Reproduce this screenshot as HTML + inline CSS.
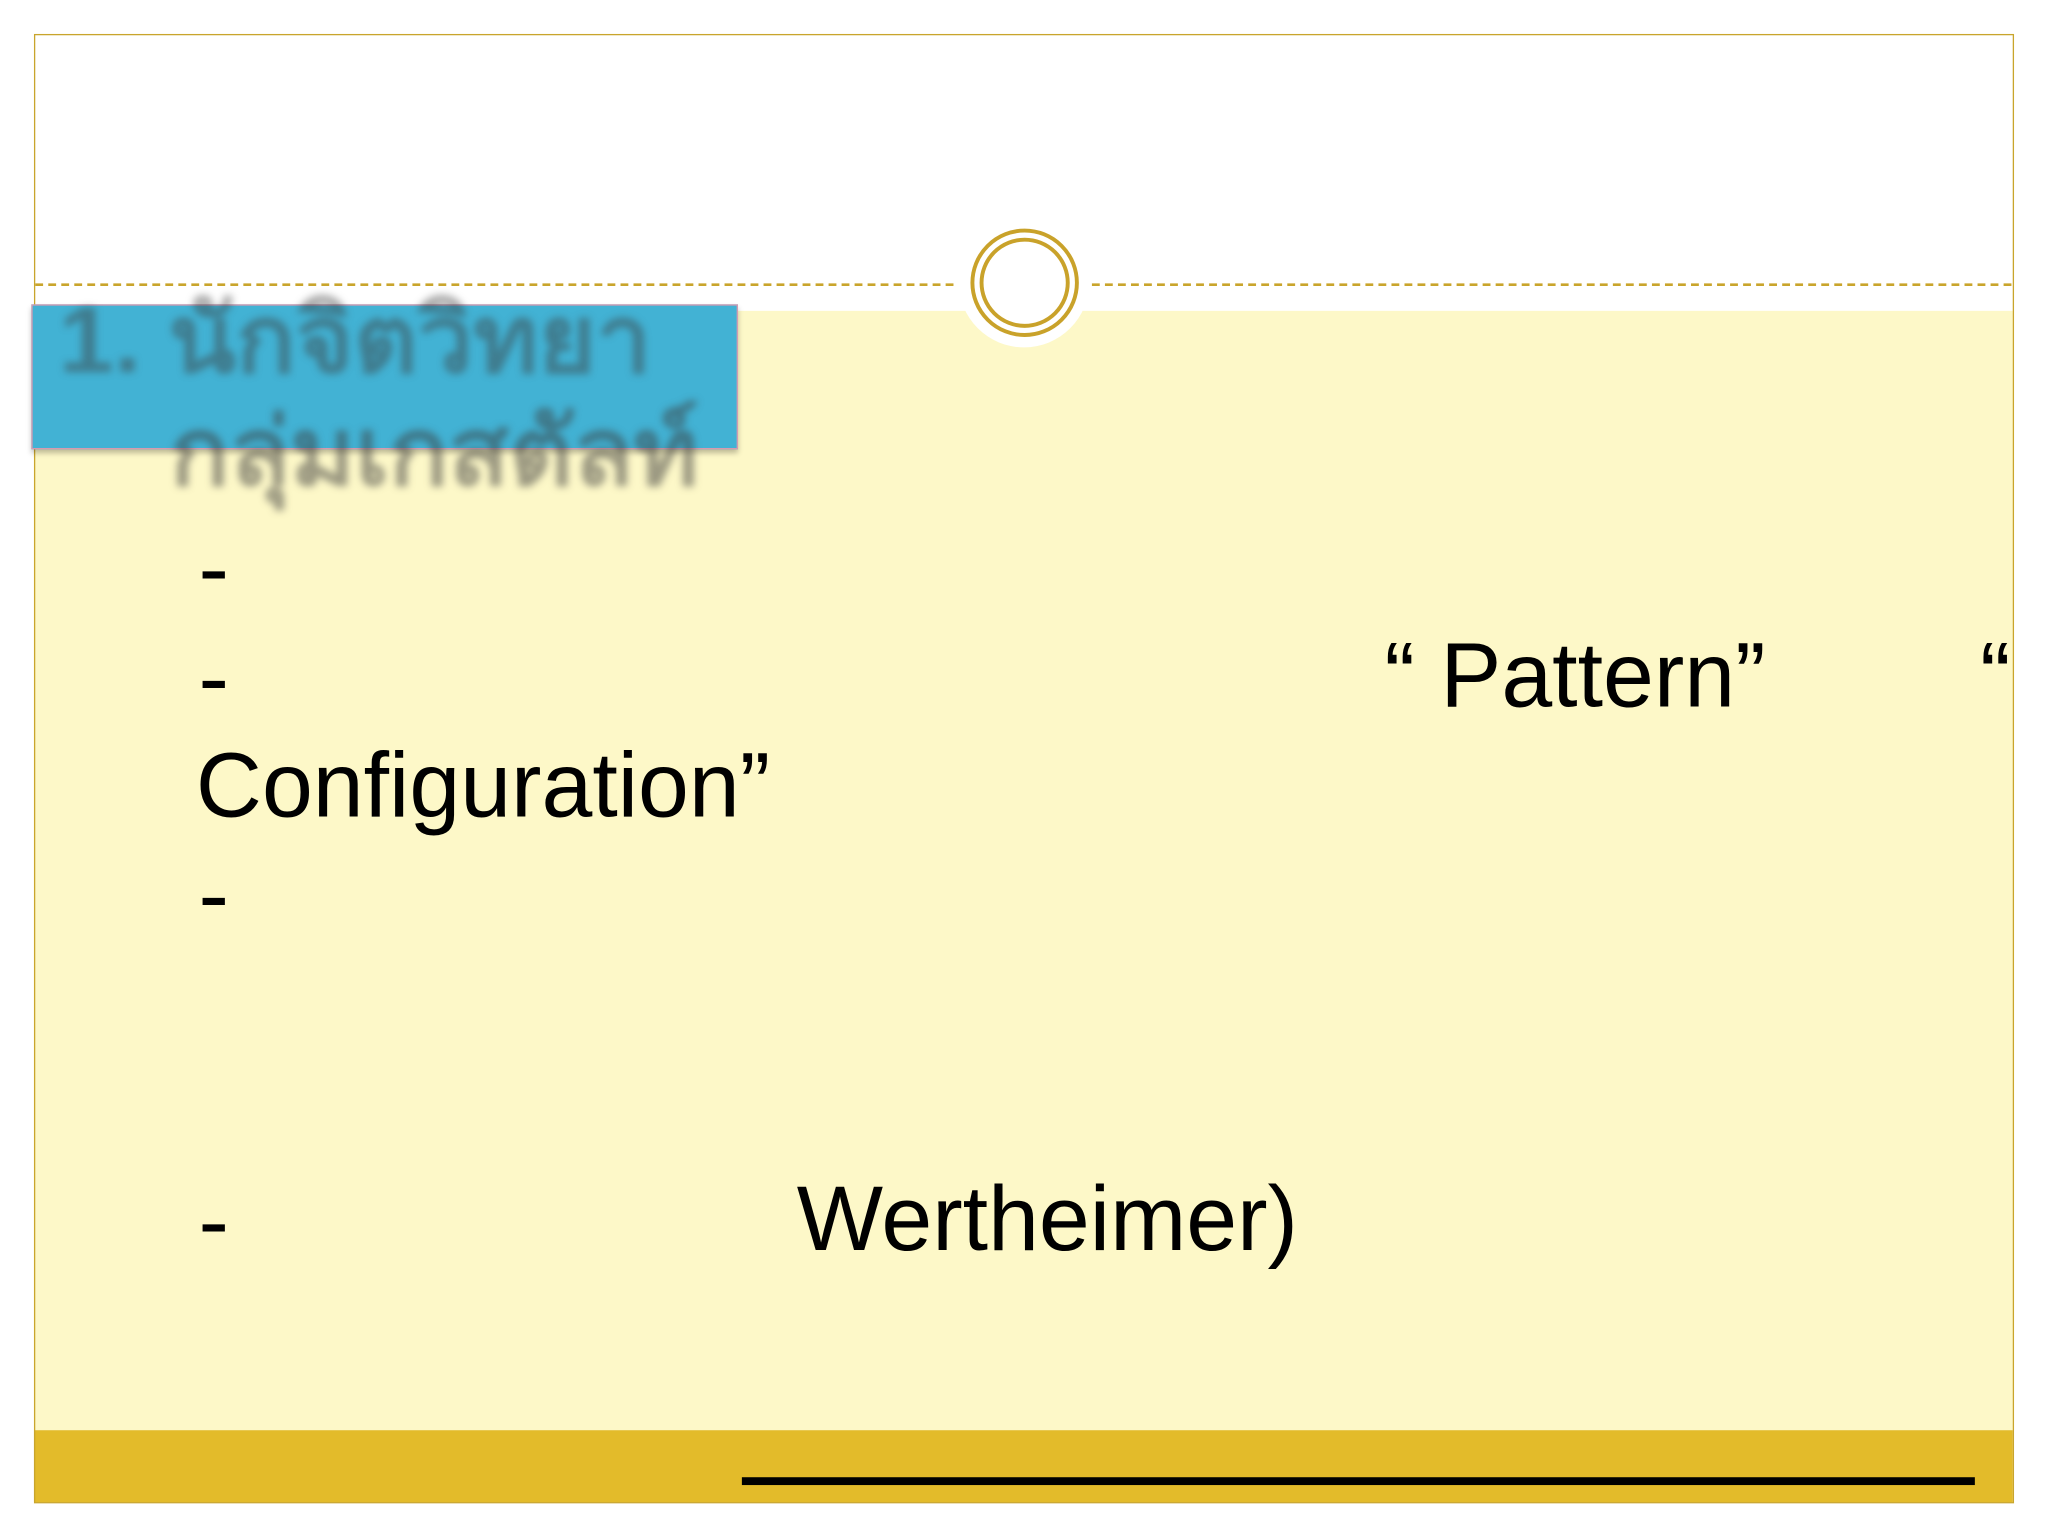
<!DOCTYPE html>
<html><head><meta charset="utf-8"><style>
html,body{margin:0;padding:0;background:#fff;width:2048px;height:1536px;overflow:hidden}
#w{position:absolute;left:0;top:0;width:1568px;height:1176px;transform:scale(1.30612);transform-origin:0 0;font-family:"Liberation Sans","Noto Sans CJK SC",sans-serif}
.a{position:absolute}
.t{position:absolute;font-size:70px;color:#000;line-height:1;white-space:nowrap}
</style></head><body><div id="w">
<div class="a" style="left:26px;top:238px;width:1515px;height:857px;background:#fdf8c8"></div>
<div class="a" style="left:26px;top:1095px;width:1515px;height:55px;background:#e3bb2a"></div>
<div class="a" style="left:568px;top:1131px;width:944px;height:6px;background:#000"></div>
<div class="a" style="left:26px;top:26px;width:1514px;height:1123px;border:1.5px solid #c9a52c"></div>
<div class="a" style="left:27px;top:217px;width:703px;border-top:2px dashed #c9a52c"></div>
<div class="a" style="left:836px;top:217px;width:704px;border-top:2px dashed #c9a52c"></div>
<div class="a" style="left:734px;top:166px;width:100px;height:100px;border-radius:50%;background:#fff"></div>
<div class="a" style="left:743px;top:175px;width:77px;height:77px;border-radius:50%;border:3px solid #c9a22a"></div>
<div class="a" style="left:750px;top:182px;width:63px;height:63px;border-radius:50%;border:3px solid #c9a22a"></div>
<div class="a" style="left:24px;top:233px;width:539px;height:109px;background:#42b2d4;border:1.5px solid #d79ab0;box-shadow:0 3px 4px rgba(0,0,0,.25)"></div>
<div class="a" style="left:45px;top:202px;font-size:72px;font-weight:bold;color:rgba(60,60,60,.45);filter:blur(3px);white-space:nowrap;transform:scaleX(1.05);transform-origin:0 0">1. นักจิตวิทยา</div>
<div class="a" style="left:130px;top:288px;font-size:72px;font-weight:bold;color:rgba(60,60,60,.5);filter:blur(3px);white-space:nowrap;transform:scaleX(1.05);transform-origin:0 0">กลุ่มเกสตัลท์</div>
<div class="t" style="left:152px;top:400px">-</div>
<div class="t" style="left:152px;top:484px">-</div>
<div class="t" style="left:1060px;top:482px">“ Pattern”</div>
<div class="t" style="left:1516px;top:482px">“</div>
<div class="t" style="left:150px;top:566px">Configuration”</div>
<div class="t" style="left:152px;top:650px">-</div>
<div class="t" style="left:152px;top:900px">-</div>
<div class="t" style="left:610px;top:898px">Wertheimer)</div>
</div></body></html>
